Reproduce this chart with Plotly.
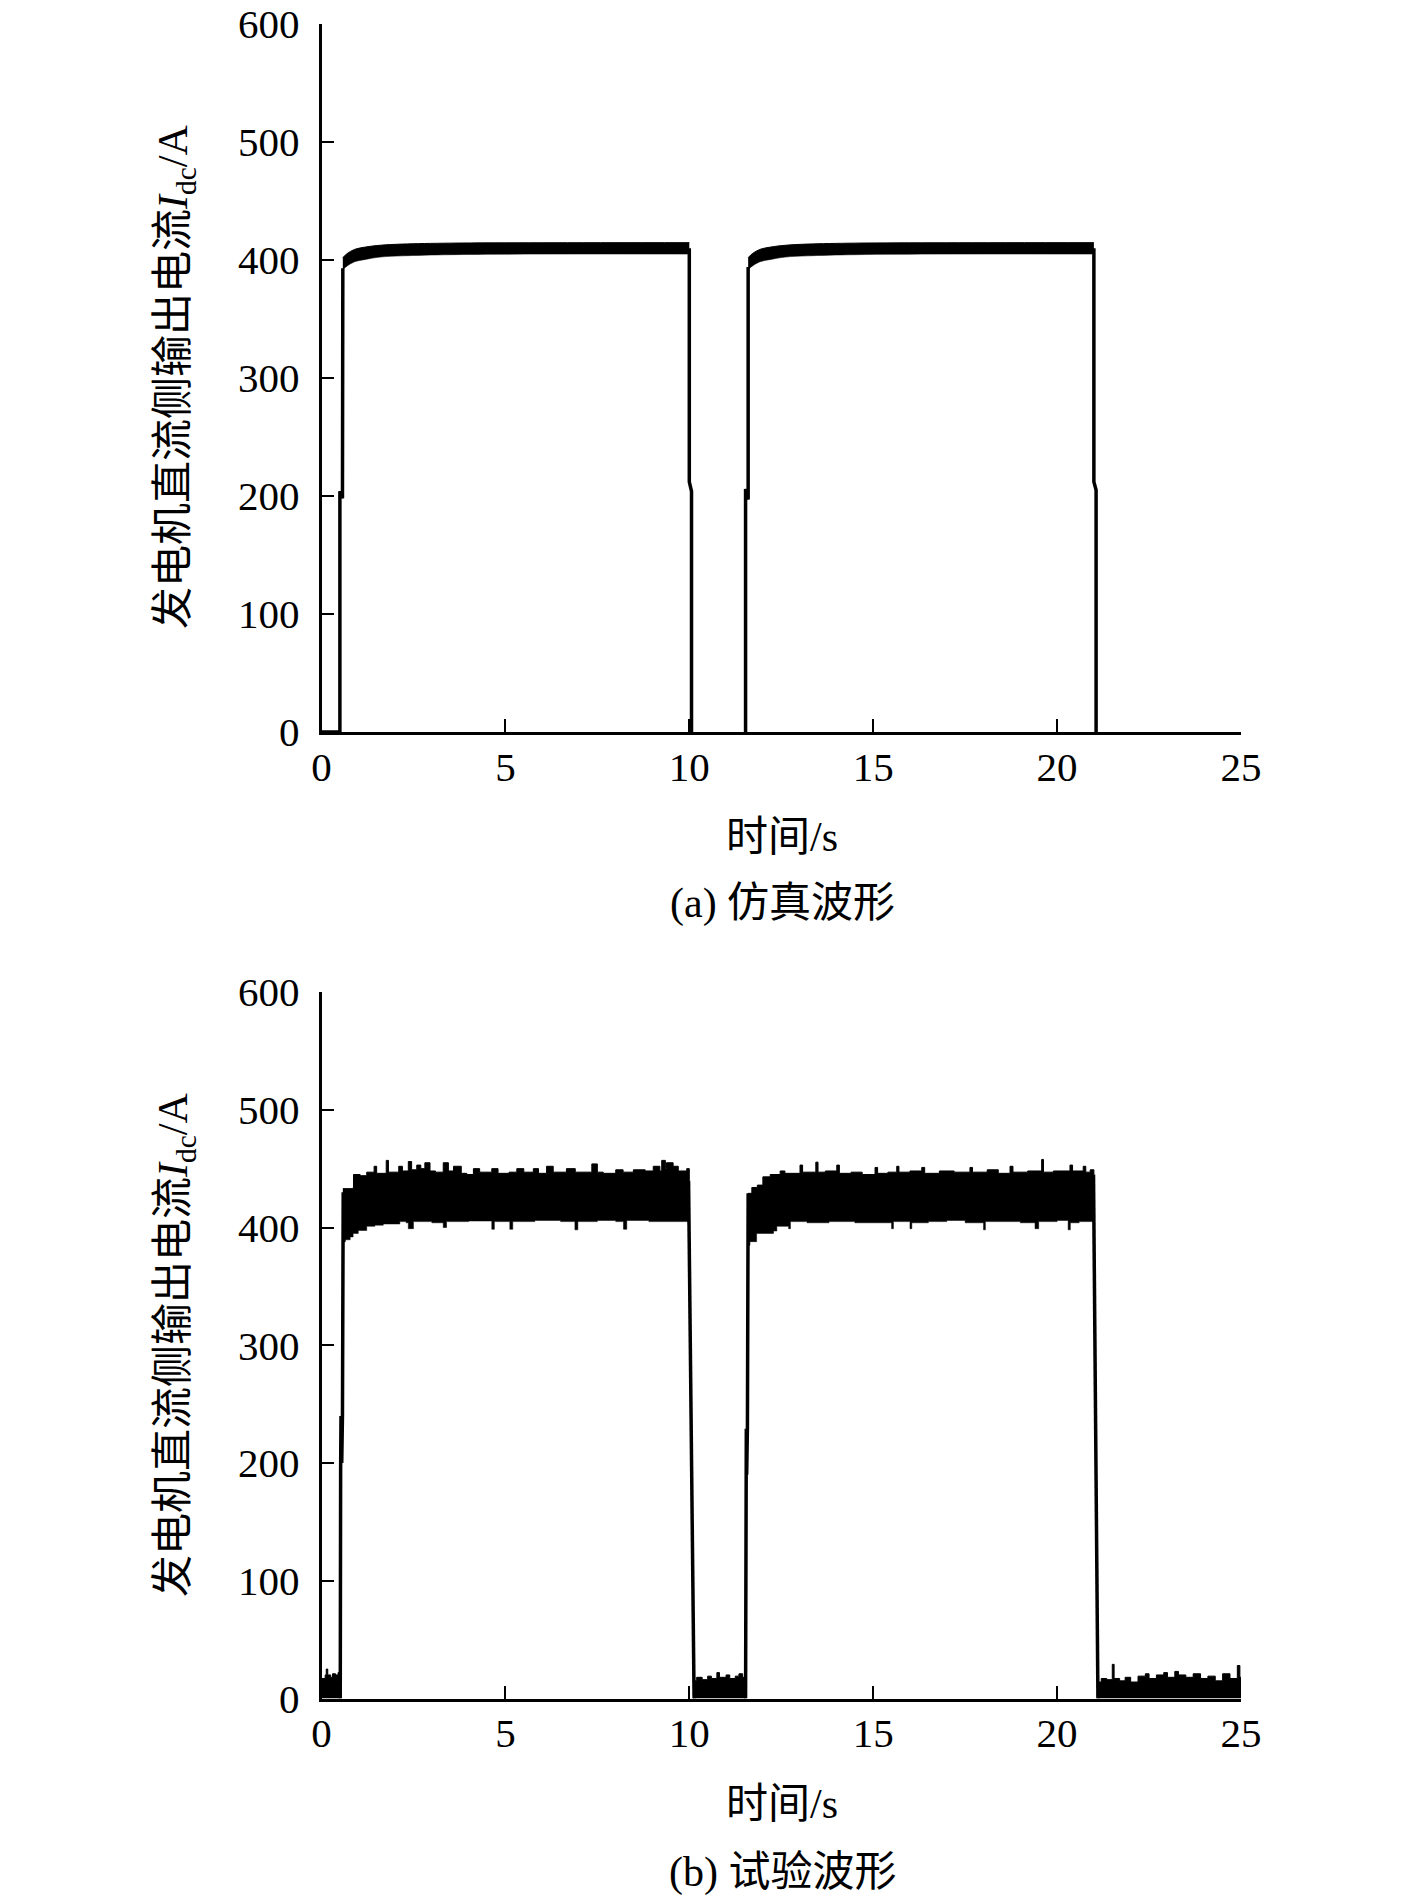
"""Generator DC-side output current: simulated vs. test waveform."""

import plotly.graph_objects as go
from plotly.subplots import make_subplots

FONT = "Liberation Serif, Noto Sans CJK SC, serif"
INK = "#000000"

X_TICKS = [0, 5, 10, 15, 20, 25]
Y_TICKS = [0, 100, 200, 300, 400, 500, 600]
X_TITLE = "时间/s"
Y_TITLE = "发电机直流侧输出电流<i>I</i><sub>dc</sub>/A"
CAPTIONS = ["(a) 仿真波形", "(b) 试验波形"]

# ---- (a) simulation: switching edges and the thin ripple band on top ----
SIM_EDGE_T = [0, 0.5, 0.5, 0.57, 0.58, None,
              10.0, 10.0, 10.06, 10.06, None,
              11.53, 11.53, 11.6, 11.6, None,
              21.0, 21.0, 21.06, 21.06]
SIM_EDGE_I = [0, 0, 204, 198, 393, None,
              410, 212, 204, 0, None,
              0, 206, 197, 394, None,
              410, 212, 205, 0]

SIM_BAND1_T = [0.58, 0.7, 0.9, 1.2, 1.6, 2.2, 3.5, 6.0, 10.0]
SIM_BAND2_T = [11.6, 11.72, 11.92, 12.22, 12.62, 13.22, 14.5, 17.0, 21.0]
SIM_LOW = [392, 395, 398.5, 400.5, 402.5, 403.5, 404.5, 405, 405]
SIM_UP = [402, 405.5, 409, 411, 412.5, 413.5, 414.3, 414.6, 414.7]

# ---- (b) test: noisy band read as upper / lower envelopes ----
TEST_UP1_T = [0.58, 0.86, 0.87, 1.05, 1.23, 1.43, 1.5, 1.76, 1.82, 2.1, 2.2,
              2.36, 2.45, 2.59, 2.7, 2.81, 2.95, 3.1, 3.31, 3.45, 3.59, 3.8,
              3.95, 4.13, 4.3, 4.63, 4.8, 5.1, 5.31, 5.5, 5.76, 5.9, 6.12,
              6.3, 6.66, 6.9, 7.35, 7.5, 7.66, 8.0, 8.2, 8.48, 8.8, 9.02,
              9.2, 9.25, 9.35, 9.38, 9.56, 9.7, 9.93, 10.0]
TEST_UP1_I = [433, 434, 445, 444, 447, 452, 446, 457, 447, 452, 448,
              456, 449, 453, 450, 455, 448, 447, 455, 448, 452, 446,
              445, 450, 447, 450, 446, 447, 450, 447, 450, 446, 452,
              447, 450, 447, 454, 447, 446, 449, 447, 449, 448, 452,
              448, 457, 450, 455, 452, 448, 450, 440]
TEST_LOW1_T = [0.58, 0.65, 0.78, 0.86, 1.0, 1.23, 1.45, 1.68, 2.13, 2.3,
               2.36, 2.5, 3.0, 3.31, 3.4, 4.0, 4.63, 4.7, 5.12, 5.2, 5.8,
               6.5, 6.89, 6.97, 7.5, 8.0, 8.21, 8.3, 8.9, 9.5, 9.97, 10.0]
TEST_LOW1_I = [388, 389.6, 392, 395, 397.5, 401, 402, 403, 405, 404,
               399, 405, 404, 400, 405, 405.5, 398.5, 405, 398.5, 405, 406,
               405, 398, 405, 406, 405, 398.5, 406, 405, 405, 404, 404]

TEST_UP2_T = [11.6, 11.7, 11.85, 12.0, 12.2, 12.47, 12.6, 13.01, 13.08,
              13.44, 13.5, 13.7, 14.01, 14.08, 14.4, 14.7, 15.05, 15.12,
              15.4, 15.64, 15.7, 16.0, 16.32, 16.4, 16.8, 17.2, 17.63,
              17.7, 18.1, 18.4, 18.72, 18.8, 19.2, 19.58, 19.63, 19.9,
              20.35, 20.42, 20.71, 20.78, 20.9, 21.0]
TEST_UP2_I = [429, 434, 436, 443, 445, 448, 446, 453, 447,
              455.5, 447, 448, 453, 446, 447, 445, 451, 446,
              447, 452, 447, 448, 451, 446, 448, 447, 451,
              447, 449, 446, 452, 447, 448, 457.8, 447, 448,
              453, 448, 452, 447, 449, 445]
TEST_LOW2_T = [11.6, 11.65, 11.83, 12.0, 12.29, 12.38, 12.7, 12.75, 13.2,
               13.8, 14.5, 15.5, 15.55, 16.0, 16.05, 16.5, 17.0, 17.5,
               18.0, 18.05, 18.5, 19.0, 19.4, 19.5, 20.0, 20.3, 20.36,
               20.6, 21.0]
TEST_LOW2_I = [385, 388, 395, 395, 397, 401, 399, 405, 404,
               405, 404, 399, 405, 399, 404, 405, 406, 404,
               398, 405, 405, 404, 399, 405, 406, 398, 404,
               405, 404]

# low-level ripple while the generator is off
TEST_OFF1_T = [0, 0.1, 0.13, 0.17, 0.25, 0.3, 0.38, 0.45, 0.52]
TEST_OFF1_I = [17, 20, 25, 20, 18, 21, 20, 22, 21]
TEST_OFF2_T = [10.1, 10.2, 10.35, 10.5, 10.6, 10.75, 10.82, 11.0, 11.1,
               11.25, 11.35, 11.45, 11.53]
TEST_OFF2_I = [15, 18, 16, 19, 17, 22, 18, 20, 17, 19, 21, 18, 18]
TEST_OFF3_T = [21.1, 21.2, 21.35, 21.5, 21.55, 21.7, 21.85, 22.0, 22.2,
               22.4, 22.5, 22.7, 22.9, 23.0, 23.2, 23.3, 23.5, 23.7,
               23.9, 24.1, 24.3, 24.5, 24.7, 24.9, 24.97, 25]
TEST_OFF3_I = [14, 17, 16, 29, 17, 15, 18, 14, 19,
               21, 17, 20, 22, 18, 23, 20, 18, 21,
               17, 19, 15, 21, 17, 28, 18, 18]

TEST_EDGE_T = [0.5, 0.51, 0.52, 0.53, 0.55, 0.57, 0.59, None,
               9.98, 10.05, 10.06, 10.08, 10.13, None,
               11.53, 11.54, 11.55, 11.56, 11.58, 11.6, None,
               20.99, 21.04, 21.05, 21.06, 21.11]
TEST_EDGE_I = [20, 0, 195, 240, 200, 240, 430, None,
               440, 232, 208, 205, 0, None,
               0, 189, 229, 190, 230, 429, None,
               445, 232, 205, 200, 0]

W, H = 1417, 1902


def band(fig, t, low, up, row, shape):
    fig.add_trace(go.Scatter(x=t[0], y=low, mode="lines", line=dict(width=0.5, color=INK, shape=shape),
                             showlegend=False, hoverinfo="skip"), row=row, col=1)
    fig.add_trace(go.Scatter(x=t[1], y=up, mode="lines", fill="tonexty", fillcolor=INK,
                             line=dict(width=1, color=INK, shape=shape),
                             showlegend=False, hoverinfo="skip"), row=row, col=1)


def px_x(x):
    return x / W


def px_y(y):
    return 1 - y / H


fig = make_subplots(rows=2, cols=1)

# (a)
band(fig, (SIM_BAND1_T, SIM_BAND1_T), SIM_LOW, SIM_UP, 1, "spline")
band(fig, (SIM_BAND2_T, SIM_BAND2_T), SIM_LOW, SIM_UP, 1, "spline")
fig.add_trace(go.Scatter(x=SIM_EDGE_T, y=SIM_EDGE_I, mode="lines", line=dict(width=3.5, color=INK),
                         showlegend=False), row=1, col=1)

# (b)
band(fig, (TEST_LOW1_T, TEST_UP1_T), TEST_LOW1_I, TEST_UP1_I, 2, "hv")
band(fig, (TEST_LOW2_T, TEST_UP2_T), TEST_LOW2_I, TEST_UP2_I, 2, "hv")
for t, i in [(TEST_OFF1_T, TEST_OFF1_I), (TEST_OFF2_T, TEST_OFF2_I), (TEST_OFF3_T, TEST_OFF3_I)]:
    fig.add_trace(go.Scatter(x=t, y=i, mode="lines", fill="tozeroy", fillcolor=INK,
                             line=dict(width=1, color=INK, shape="hv"), showlegend=False), row=2, col=1)
fig.add_trace(go.Scatter(x=TEST_EDGE_T, y=TEST_EDGE_I, mode="lines", line=dict(width=3.5, color=INK),
                         showlegend=False), row=2, col=1)

axis_common = dict(
    showline=True, linewidth=2.5, linecolor=INK, showgrid=False, zeroline=False,
    ticks="inside", ticklen=13, tickwidth=2, tickcolor=INK, automargin=False,
    ticklabeloverflow="allow",
    tickfont=dict(family=FONT, size=41, color=INK),
)
x_dom = [px_x(321.5), px_x(1241)]
y_doms = [[px_y(732), px_y(24)], [px_y(1698.5), px_y(992)]]
for i in range(2):
    fig.update_xaxes(axis_common, range=[0, 25], tickvals=X_TICKS, domain=x_dom,
                     ticklabelstandoff=-3, row=i + 1, col=1)
    fig.update_yaxes(axis_common, range=[0, 600], tickvals=Y_TICKS, domain=y_doms[i],
                     ticklabelstandoff=11, row=i + 1, col=1)

ann = []
for i, (yc, xt_y, cap_y) in enumerate([(377, 837, 904), (1345, 1804, 1872)]):
    ann.append(dict(x=px_x(176), y=px_y(yc), text=Y_TITLE, textangle=-90))
    ann.append(dict(x=px_x(782), y=px_y(xt_y), text=X_TITLE))
    ann.append(dict(x=px_x(782), y=px_y(cap_y), text=CAPTIONS[i]))
for a in ann:
    a.update(xref="paper", yref="paper", showarrow=False, xanchor="center", yanchor="middle",
             font=dict(family=FONT, size=42, color=INK))

fig.update_layout(
    width=W, height=H,
    margin=dict(l=0, r=0, t=0, b=0),
    paper_bgcolor="white", plot_bgcolor="white",
    annotations=ann,
    showlegend=False,
)

# drop the browser's default 8 px body margin so the figure fills the window exactly
fig.write_html("out.html", config={"displayModeBar": False},
               post_script="document.body.style.margin = '0';")
